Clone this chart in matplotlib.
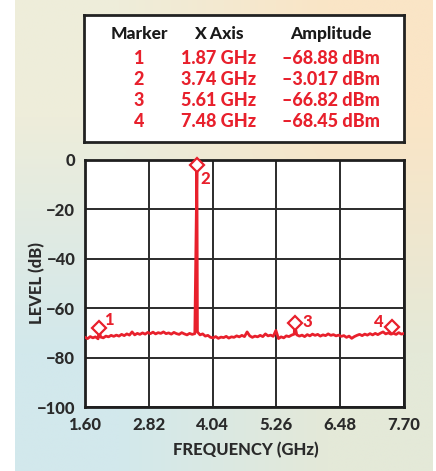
import numpy as np
import matplotlib
matplotlib.use("Agg")
import matplotlib.pyplot as plt
from matplotlib import transforms

# ---------------- data ----------------
FREQ_START, FREQ_STOP = 1.60, 7.70
NOISE_LEVEL = [
    -71.8, -72.3, -71.5, -72.0, -71.6, -72.4, -71.7, -72.0, -71.3,
    -71.6, -71.0, -71.4, -70.9, -71.3, -70.6, -71.1, -70.4, -70.9, -69.6,
    -70.8, -70.2, -70.6, -70.0, -70.5, -69.8,
    -70.3, -69.7, -70.4, -69.9, -70.2, -69.6, -70.3, -70.0,
    -70.5, -69.8, -70.3, -70.6, -69.9, -70.4, -70.8, -70.2, -70.6,
    -70.3,
    -69.6, -70.8, -70.4, -71.3, -71.0, -71.8,
    -72.0, -71.5, -72.2, -71.7, -71.9, -71.4, -72.1, -71.6, -71.8, -71.2,
    -71.6, -71.0, -71.5, -69.6, -71.2,
    -71.8, -71.3, -71.6, -71.0, -71.5, -70.4, -71.2, -70.9, -71.4,
    -69.0,
    -72.3, -71.6, -72.0, -71.2, -71.5, -70.9,
    -70.5,
    -70.8,
    -71.3, -70.9, -71.5, -70.7, -71.2, -70.5, -71.0, -70.6, -71.3, -70.8,
    -71.1, -70.4, -71.0, -70.7, -71.2, -70.9,
    -71.4, -71.1, -71.8, -71.3, -72.2, -71.5, -71.0,
    -70.6, -71.1, -70.5, -70.9, -70.3, -70.8, -70.2, -70.7, -70.1, -69.6,
    -70.4, -70.0, -70.5,
    -70.2, -70.6, -69.9, -70.5, -70.2,
]
MARKER_ID = ["1", "2", "3", "4"]
MARKER_FREQ = [1.87, 3.74, 5.61, 7.48]
MARKER_AMP = [-68.88, -3.017, -66.82, -68.45]

X_TICKS = [1.60, 2.82, 4.04, 5.26, 6.48, 7.70]
X_TICK_LABELS = ["1.60", "2.82", "4.04", "5.26", "6.48", "7.70"]
Y_TICKS = [0, -20, -40, -60, -80, -100]
Y_TICK_LABELS = ["0", "\u221220", "\u221240", "\u221260", "\u221280", "\u2212100"]

TABLE_HEADER = ["Marker", "X Axis", "Amplitude"]
TABLE_X = ["1.87 GHz", "3.74 GHz", "5.61 GHz", "7.48 GHz"]
TABLE_AMP = ["\u201368.88 dBm", "\u20133.017 dBm", "\u201366.82 dBm", "\u201368.45 dBm"]

# ---------------- style ----------------
W, H = 436, 471
DPI = 100
RED = "#E8202C"
DARK = "#2b2b2b"
WT = 900  # Lato Black
plt.rcParams["font.family"] = ["Lato", "DejaVu Sans"]
plt.rcParams["font.weight"] = WT

fig = plt.figure(figsize=(W / DPI, H / DPI), dpi=DPI)
fig.patch.set_facecolor("white")

def fx(px):
    return px / W

def fy(py):
    return 1 - py / H

# background gradient panel
bg = fig.add_axes([fx(15), 0, fx(432) - fx(15), 1], zorder=-10)
corners = np.array([
    [[238, 237, 218], [250, 229, 198]],
    [[210, 232, 236], [228, 233, 216]],
]) / 255.0
bg.imshow(corners, interpolation="bilinear", aspect="auto", extent=[0, 1, 0, 1])
bg.set_axis_off()

# table box
tab = fig.add_axes([fx(84), fy(142), fx(404) - fx(84), fy(15) - fy(142)], zorder=1)
tab.set_xlim(0, 1)
tab.set_ylim(0, 1)
tab.set_xticks([])
tab.set_yticks([])
tab.set_facecolor("white")
for s in tab.spines.values():
    s.set_linewidth(2.0)
    s.set_color("#222222")

col_x = [fx(139), fx(219), fx(331)]
head_y = fy(34)
row_y = [fy(58.5), fy(79.5), fy(100.5), fy(121.5)]
for cx, t in zip(col_x, TABLE_HEADER):
    fig.text(cx, head_y, t, ha="center", va="center", fontsize=12.5,
             fontweight=WT, color="#1a1a1a", zorder=5)
for i in range(len(MARKER_ID)):
    for cx, t in zip(col_x, [MARKER_ID[i], TABLE_X[i], TABLE_AMP[i]]):
        fig.text(cx, row_y[i], t, ha="center", va="center", fontsize=13,
                 fontweight=WT, color=RED, zorder=5)

# main plot
ax = fig.add_axes([fx(85), fy(407), fx(404) - fx(85), fy(160) - fy(407)], zorder=1)
ax.set_facecolor("white")
freq_grid = np.linspace(FREQ_START, FREQ_STOP, len(NOISE_LEVEL))
freq = np.concatenate([freq_grid, MARKER_FREQ])
level = np.concatenate([NOISE_LEVEL, MARKER_AMP])
order = np.argsort(freq, kind="stable")
ax.plot(freq[order], level[order], color=RED, lw=2.0, zorder=3)

diamond_tr = transforms.offset_copy(ax.transData, fig=fig, x=0, y=2.5, units="dots")
ax.plot(MARKER_FREQ, MARKER_AMP, ls="none", marker="D", ms=6.8, mfc="white",
        mec=RED, mew=1.6, transform=diamond_tr, zorder=4, clip_on=False)
label_offsets = [(10, 10.5), (8, -11.5), (13, 3.5), (-14, 7.5)]
for mid, mf, ma, off in zip(MARKER_ID, MARKER_FREQ, MARKER_AMP, label_offsets):
    ax.annotate(mid, (mf, ma), xytext=off, textcoords="offset pixels",
                ha="center", va="center", fontsize=12, fontweight=WT,
                color=RED, zorder=5, annotation_clip=False)

ax.set_xlim(FREQ_START, FREQ_STOP)
ax.set_ylim(-100, 0)
ax.set_xticks(X_TICKS)
ax.set_xticklabels(X_TICK_LABELS)
ax.set_yticks(Y_TICKS)
ax.set_yticklabels(Y_TICK_LABELS)
ax.grid(True, color=DARK, lw=1.4, zorder=1)
ax.set_axisbelow(True)
ax.tick_params(length=0, pad=7, labelsize=12, labelcolor="#2a2a2a")
for lab in ax.get_xticklabels() + ax.get_yticklabels():
    lab.set_fontweight(WT)
for s in ax.spines.values():
    s.set_linewidth(2.0)
    s.set_color("#1f1f1f")

fig.text(fx(246), fy(450), "FREQUENCY (GHz)", ha="center", va="center",
         fontsize=12, fontweight=WT, color="#2a2a2a")
fig.text(fx(37), fy(283), "LEVEL (dB)", ha="center", va="center", rotation=90,
         fontsize=12, fontweight=WT, color="#2a2a2a")

fig.savefig("out.png", dpi=DPI)
